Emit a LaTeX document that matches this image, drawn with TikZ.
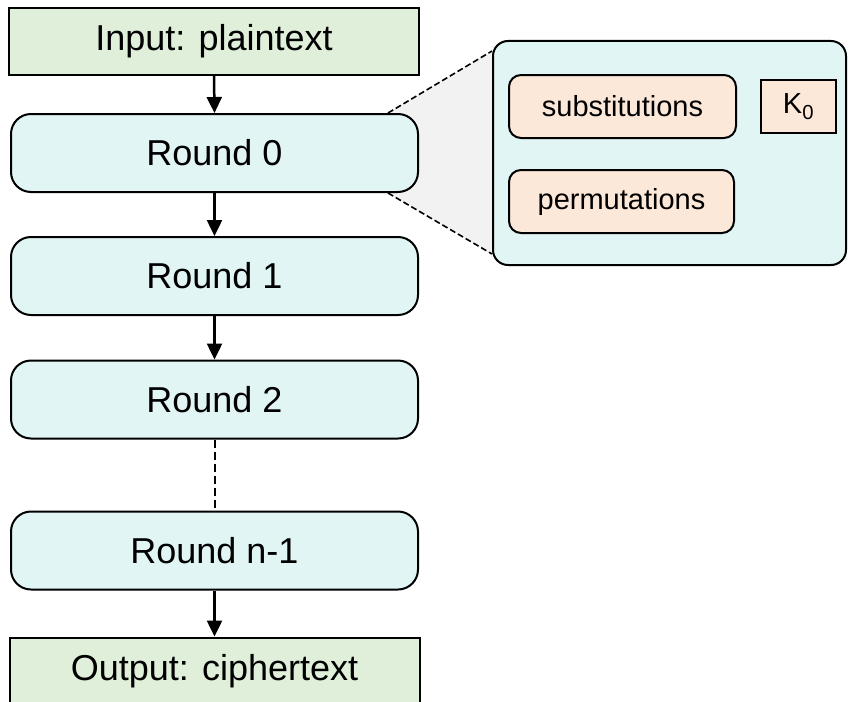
\documentclass[tikz,border=0pt]{standalone}
\usepackage{fontspec}
\setmainfont{Liberation Sans}
\usetikzlibrary{arrows.meta, backgrounds}
\definecolor{iogreen}{HTML}{DFEFDA}
\definecolor{roundcyan}{HTML}{E0F5F4}
\definecolor{oporange}{HTML}{FCE8D9}
\definecolor{zoomgray}{HTML}{F2F2F2}

\begin{document}
\begin{tikzpicture}[x=1pt, y=-1pt, >={Triangle[width=15pt, length=16pt]},
        iobox/.style={draw, line width=2pt, fill=iogreen, minimum width=410pt, minimum height=67pt, font=\fontsize{36}{40}\selectfont},
        roundbox/.style={draw, line width=2pt, rounded corners=20pt, fill=roundcyan, minimum width=407pt, minimum height=78pt, font=\fontsize{36}{40}\selectfont},
        opbox/.style={draw, line width=2pt, rounded corners=12pt, fill=oporange, minimum height=63pt, font=\fontsize{29}{32}\selectfont},
        link/.style={->, line width=2.5pt}]
    \useasboundingbox (0,0) rectangle (848,701);
    % Rounds
    \node[iobox] (input) at (214,41.5) {Input: plaintext};
    \node[roundbox] (r0) at (214.5,153) {Round 0};
    \node[roundbox] (r1) at (214.5,276) {Round 1};
    \node[roundbox] (r2) at (214.5,399.5) {Round 2};
    \node[roundbox] (rn) at (214.5,550.5) {Round n-1};
    \node[iobox] (output) at (214.5,671) {Output: ciphertext};
    \draw[link] (input.south) -- (r0.north);
    \draw[link] (r0.south) -- (r1.north);
    \draw[link] (r1.south) -- (r2.north);
    \draw[line width=2pt, dash pattern=on 8pt off 4pt] (r2.south) -- (rn.north);
    \draw[link] (rn.south) -- (output.north);
    % Zoom into round 0
    \node[draw, line width=2pt, rounded corners=15pt, fill=roundcyan, minimum width=353pt, minimum height=224pt] (panel) at (669.5,153) {};
    \node[opbox, minimum width=227pt] (subst) at (622.5,106.5) {substitutions};
    \node[draw, line width=2pt, fill=oporange, minimum width=75pt, minimum height=53pt, font=\fontsize{29}{32}\selectfont] (key) at (798.5,106.5) {K\textsubscript{0}};
    \node[opbox, minimum width=225pt] (perm) at (621.5,201.5) {permutations};
    \coordinate (zt) at ([xshift=-31pt]r0.north east);
    \coordinate (zb) at ([xshift=-31pt]r0.south east);
    \coordinate (pt) at ([yshift=-11pt]panel.north west);
    \coordinate (pb) at ([yshift=12pt]panel.south west);
    \begin{scope}[on background layer]
        \fill[zoomgray] (zt) -- (pt) -- (pb) -- (zb) -- cycle;
        \draw[line width=1.6pt, dash pattern=on 6pt off 3pt] (zt) -- (pt) (zb) -- (pb);
    \end{scope}
\end{tikzpicture}
\end{document}
